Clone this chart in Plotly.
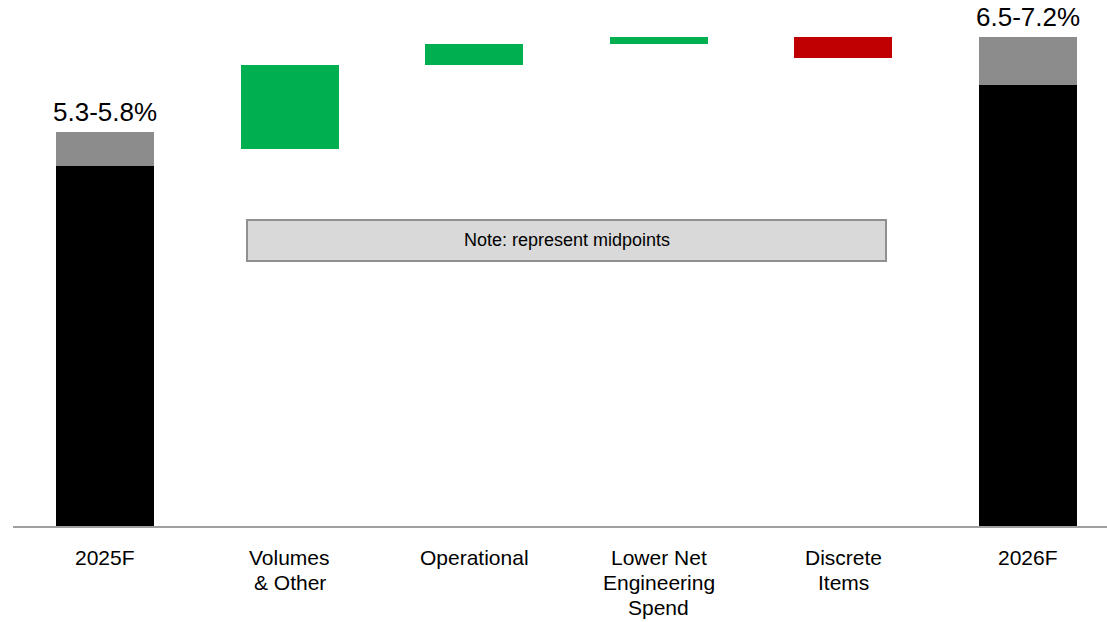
import plotly.graph_objects as go

# Categories of the margin bridge (lines of each label)
categories = [["2025F"], ["Volumes", "& Other"], ["Operational"],
              ["Lower Net", "Engineering", "Spend"], ["Discrete", "Items"], ["2026F"]]

# Guidance ranges for the two end bars (low / high, %)
end_labels = ["5.3-5.8%", "6.5-7.2%"]
range_low = [5.3, 6.5]
range_high = [5.8, 7.2]

# Bridge steps between the midpoints (%-points)
step_deltas = [1.25, 0.3, 0.1, -0.3]

FONT = "Liberation Sans, Arial, sans-serif"
BLACK = "#000000"
GREY = "#8c8c8c"
GREEN = "#00b050"
RED = "#c00000"
BAR_W = 0.53
LINE_H = 25

end_x = [0, len(categories) - 1]
step_x = list(range(1, len(categories) - 1))

fig = go.Figure()

# End bars: solid part up to the low end, grey band for the range
fig.add_trace(go.Bar(x=end_x, y=range_low, base=[0, 0], width=BAR_W,
                     marker=dict(color=BLACK, line=dict(width=0)),
                     hoverinfo="skip"))
fig.add_trace(go.Bar(x=end_x, y=[h - l for h, l in zip(range_high, range_low)],
                     base=range_low, width=BAR_W,
                     marker=dict(color=GREY, line=dict(width=0)),
                     hoverinfo="skip"))

# Floating steps starting from the 2025F midpoint
running = (range_low[0] + range_high[0]) / 2
bases, colors = [], []
for d in step_deltas:
    bases.append(running)
    colors.append(GREEN if d >= 0 else RED)
    running += d
fig.add_trace(go.Bar(x=step_x, y=step_deltas, base=bases, width=BAR_W,
                     marker=dict(color=colors, line=dict(width=0)),
                     hoverinfo="skip"))

# Range labels above the end bars
for xi, txt, top in zip(end_x, end_labels, range_high):
    fig.add_annotation(x=xi, y=top, text=txt, showarrow=False,
                       xanchor="center", yanchor="bottom", yshift=3,
                       font=dict(family=FONT, size=26, color="#000000"))

# Category labels under the axis, one annotation per line
for xi, lines in enumerate(categories):
    for li, txt in enumerate(lines):
        fig.add_annotation(x=xi, y=0, text=txt, showarrow=False,
                           xanchor="center", yanchor="top",
                           yshift=-18 - li * LINE_H,
                           font=dict(family=FONT, size=21, color="#000000"))

# Note box
fig.add_shape(type="rect", xref="paper", yref="paper",
              x0=0.2139, x1=0.798, y0=0.5038, y1=0.5817,
              fillcolor="#d9d9d9", line=dict(color="#909090", width=2))
fig.add_annotation(xref="paper", yref="paper", x=0.506, y=0.5428,
                   text="Note: represent midpoints", showarrow=False,
                   xanchor="center", yanchor="middle",
                   font=dict(family=FONT, size=18, color="#000000"))

fig.update_layout(
    width=1107, height=622,
    margin=dict(l=13, r=0, t=0, b=96),
    paper_bgcolor="white", plot_bgcolor="white",
    showlegend=False, barmode="overlay", bargap=0,
    xaxis=dict(range=[-0.4984, 5.428], showgrid=False, zeroline=False,
               showticklabels=False, ticks="", showline=True,
               linecolor="#a0a0a0", linewidth=1.5, fixedrange=True),
    yaxis=dict(range=[0, 7.751], showgrid=False, zeroline=False,
               showticklabels=False, ticks="", showline=False,
               fixedrange=True),
)

fig.write_html("out.html")
